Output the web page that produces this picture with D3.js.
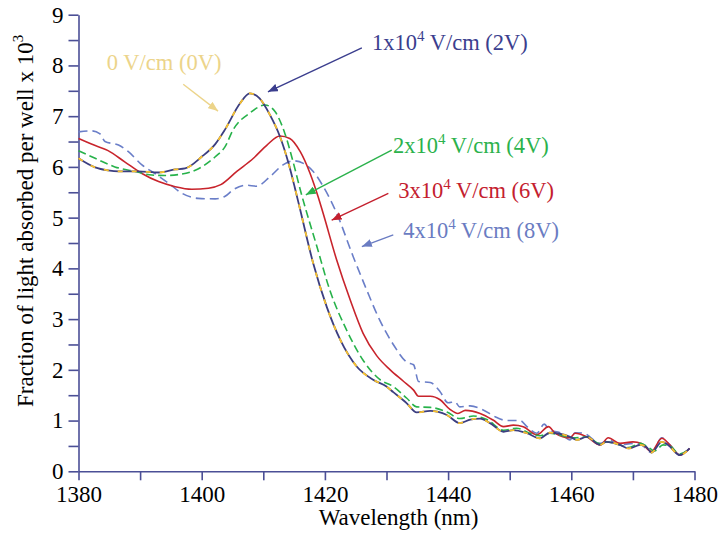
<!DOCTYPE html>
<html>
<head>
<meta charset="utf-8">
<script src="https://cdn.jsdelivr.net/npm/d3@7"></script>
<style>
  body { margin: 0; background: #fff; }
  text { font-family: "Liberation Serif", "Times New Roman", serif; }
</style>
</head>
<body>
<div id="chart"></div>
<script>
// wavelength (nm) and absorbed fraction (x 10^3)
var wlA = [1380, 1382.7, 1384.8, 1386.5, 1389.7, 1393, 1395.7, 1397.3, 1400, 1402.2, 1403.8, 1406.2, 1407.8, 1409.4, 1411.1, 1412.7, 1414.1, 1415.1, 1416, 1418.1, 1420.3, 1422.5, 1425.2, 1427.9, 1430, 1431.1, 1433.3, 1434.9, 1437.1, 1439.8, 1441.9, 1443.6, 1445.2, 1446.8, 1449, 1450.6, 1452.8, 1454.9, 1456.5, 1459.8, 1460.9, 1462.5, 1464.7, 1465.7, 1467.9, 1469.3, 1471.2, 1472.2, 1473, 1474.7, 1475.7, 1477.6, 1479.2];
var val0V = [6.17, 5.99, 5.93, 5.91, 5.91, 5.89, 5.95, 5.97, 6.2, 6.45, 6.74, 7.25, 7.45, 7.35, 7.02, 6.6, 6.07, 5.6, 5.15, 4.1, 3.24, 2.59, 2.06, 1.8, 1.67, 1.56, 1.34, 1.16, 1.19, 1.11, 0.95, 1.02, 1.04, 0.95, 0.78, 0.81, 0.75, 0.65, 0.76, 0.68, 0.62, 0.68, 0.52, 0.58, 0.52, 0.45, 0.52, 0.48, 0.37, 0.58, 0.52, 0.32, 0.45];
var val2V = [6.17, 5.99, 5.93, 5.91, 5.91, 5.89, 5.95, 5.97, 6.2, 6.45, 6.74, 7.25, 7.45, 7.35, 7.02, 6.6, 6.07, 5.6, 5.15, 4.1, 3.24, 2.59, 2.06, 1.8, 1.67, 1.56, 1.34, 1.16, 1.19, 1.11, 0.95, 1.02, 1.04, 0.95, 0.78, 0.81, 0.75, 0.65, 0.76, 0.68, 0.62, 0.68, 0.52, 0.58, 0.52, 0.45, 0.52, 0.48, 0.37, 0.58, 0.52, 0.32, 0.45];

var wl4V = [1380, 1382.7, 1385.9, 1389.2, 1391.9, 1394, 1396.8, 1399.4, 1402.2, 1403.8, 1405.1, 1407.8, 1410.3, 1411.9, 1413.5, 1414.9, 1416, 1418.7, 1420.8, 1423.5, 1426.2, 1428.9, 1431.1, 1433.3, 1434.9, 1437.1, 1439.8, 1441.9, 1444.1, 1446.3, 1449, 1451.1, 1453.3, 1454.9, 1456.5, 1460.3, 1462.5, 1464.7, 1465.7, 1467.9, 1469.3, 1471.2, 1472.2, 1473.5, 1474.9, 1476, 1477.6, 1479.2];
var val4V = [6.32, 6.17, 6.0, 5.91, 5.84, 5.83, 5.86, 5.96, 6.2, 6.4, 6.73, 7.06, 7.22, 7.09, 6.66, 6.07, 5.55, 4.43, 3.57, 2.79, 2.19, 1.81, 1.67, 1.44, 1.27, 1.26, 1.17, 1.04, 1.09, 1.02, 0.81, 0.85, 0.75, 0.7, 0.75, 0.66, 0.68, 0.54, 0.58, 0.52, 0.47, 0.55, 0.5, 0.4, 0.52, 0.5, 0.34, 0.45];

var wl6V = [1380, 1382.1, 1384.8, 1387.5, 1390.3, 1393, 1395.7, 1398.4, 1401.1, 1403.1, 1405.7, 1408.4, 1410.6, 1412.7, 1414.3, 1416, 1417.6, 1418.9, 1419.7, 1421.9, 1424.1, 1426.2, 1428.4, 1430.6, 1432.7, 1434.4, 1435.2, 1437.1, 1438.7, 1440.3, 1441.6, 1442.8, 1445.2, 1447.3, 1449, 1450.6, 1452.2, 1454.4, 1456.3, 1457.4, 1459.8, 1460.6, 1462.5, 1464.7, 1466, 1467.9, 1470, 1471.4, 1473, 1474.7, 1476, 1477.6, 1479.2];
var val6V = [6.56, 6.45, 6.32, 6.1, 5.87, 5.71, 5.61, 5.56, 5.58, 5.65, 5.91, 6.17, 6.43, 6.61, 6.56, 6.3, 5.87, 5.41, 5.09, 4.17, 3.38, 2.72, 2.28, 2.0, 1.78, 1.6, 1.48, 1.48, 1.41, 1.22, 1.14, 1.2, 1.14, 1.01, 0.88, 0.91, 0.88, 0.72, 0.88, 0.75, 0.66, 0.75, 0.68, 0.52, 0.66, 0.55, 0.58, 0.55, 0.39, 0.65, 0.52, 0.32, 0.45];

var wl8V = [1380, 1382.1, 1383.5, 1384.3, 1386.5, 1388.1, 1390.3, 1392.4, 1394.6, 1396.8, 1399.4, 1402.2, 1403.8, 1405.1, 1407.3, 1408.9, 1411.1, 1413.2, 1414.9, 1416.5, 1418.1, 1419.7, 1421.9, 1424.6, 1426.8, 1428.9, 1431.1, 1433.3, 1434.4, 1435.2, 1437.1, 1438.7, 1440, 1441.1, 1441.9, 1443.6, 1445.7, 1447.9, 1449.5, 1451.7, 1452.8, 1454.4, 1455.6, 1456.5, 1458.2, 1459.8, 1460.6, 1462, 1464.7, 1466, 1467.9, 1470, 1471.4, 1473, 1474.7, 1476, 1477.6, 1479.2];
var val8V = [6.69, 6.71, 6.65, 6.5, 6.43, 6.3, 6.04, 5.87, 5.68, 5.48, 5.38, 5.37, 5.42, 5.55, 5.64, 5.62, 5.81, 6.04, 6.12, 6.07, 5.91, 5.62, 5.09, 4.23, 3.57, 2.98, 2.5, 2.15, 2.1, 1.77, 1.75, 1.57, 1.35, 1.37, 1.27, 1.29, 1.21, 1.06, 1.0, 1.0, 0.88, 0.75, 0.93, 0.81, 0.76, 0.62, 0.76, 0.75, 0.55, 0.62, 0.52, 0.55, 0.52, 0.37, 0.66, 0.52, 0.32, 0.45];

var xTicks = [1380, 1390, 1400, 1410, 1420, 1430, 1440, 1450, 1460, 1470, 1480];
var yTicks = [0, 0.5, 1, 1.5, 2, 2.5, 3, 3.5, 4, 4.5, 5, 5.5, 6, 6.5, 7, 7.5, 8, 8.5, 9];

var svgwidth = 719, svgheight = 535;
var margin = {top: 14.7, right: 24.5, bottom: 63.7, left: 78.5};
var width = svgwidth - margin.left - margin.right,
    height = svgheight - margin.top - margin.bottom;
var axisColor = "#4b4f96";

var svg = d3.select("#chart")
            .append("svg")
            .attr("width", svgwidth)
            .attr("height", svgheight);

var canvas = svg.append("g")
            .attr("transform", "translate(" + margin.left + "," + margin.top + ")");

var x = d3.scaleLinear().domain([1380, 1480]).range([0, width]),
    y = d3.scaleLinear().domain([0, 9]).range([height, 0]);

var xAxis = canvas.append("g")
        .attr("transform", "translate(0," + height + ")")
        .call(d3.axisBottom(x).tickValues(xTicks).tickSize(9).tickSizeOuter(0).tickPadding(5)
              .tickFormat(function(d) { return d % 20 === 0 ? d : ""; }));
var yAxis = canvas.append("g")
        .call(d3.axisLeft(y).tickValues(yTicks).tickSize(10).tickSizeOuter(0).tickPadding(5)
              .tickFormat(function(d) { return d % 1 === 0 ? d : ""; }));

[xAxis, yAxis].forEach(function(a) {
    a.selectAll("path, line").attr("stroke", axisColor).attr("stroke-width", 1.6);
    a.selectAll("text").attr("fill", "black").attr("font-size", "23px")
        .attr("font-family", "Liberation Serif, Times New Roman, serif");
});

// axis titles
canvas.append("text")
        .attr("x", width / 2 + 12)
        .attr("y", height + 54)
        .attr("text-anchor", "middle")
        .attr("font-size", "23px")
        .text("Wavelength (nm)");

var ytitle = svg.append("text")
        .attr("transform", "translate(33,407) rotate(-90)")
        .attr("font-size", "23px");
ytitle.append("tspan").text("Fraction of light absorbed per well x 10");
ytitle.append("tspan").attr("font-size", "15px").attr("dy", -10).text("3");

// curves
var series = [
    {wl: wl8V, val: val8V, color: "#6a7ec8", dash: "9,5", width: 1.6},
    {wl: wl6V, val: val6V, color: "#c8242c", dash: null, width: 1.6},
    {wl: wl4V, val: val4V, color: "#27b24a", dash: "8,4", width: 1.6},
    {wl: wlA, val: val2V, color: "#3c3e80", dash: null, width: 1.8},
    {wl: wlA, val: val0V, color: "#f8c12c", dash: "5,9", width: 1.8}
];

var line = d3.line()
        .x(function(d) { return x(d[0]); })
        .y(function(d) { return y(d[1]); })
        .curve(d3.curveMonotoneX);

series.forEach(function(s) {
    canvas.append("path")
        .datum(d3.zip(s.wl, s.val))
        .attr("fill", "none")
        .attr("stroke", s.color)
        .attr("stroke-width", s.width)
        .attr("stroke-dasharray", s.dash)
        .attr("d", line);
});

// annotations, positioned in data units
var notes = [
    {pre: "0 V/cm (0V)", sup: null, post: "", color: "#ecd48a", tx: 1384.6, ty: 7.91, x1: 1397.0, y1: 7.63, x2: 1402.65, y2: 7.10},
    {pre: "1x10", sup: "4", post: " V/cm (2V)", color: "#3b3e8e", tx: 1427.65, ty: 8.305, x1: 1426.0, y1: 8.345, x2: 1410.75, y2: 7.48},
    {pre: "2x10", sup: "4", post: " V/cm (4V)", color: "#2bb24c", tx: 1431.05, ty: 6.27, x1: 1430.85, y1: 6.33, x2: 1416.9, y2: 5.45},
    {pre: "3x10", sup: "4", post: " V/cm (6V)", color: "#c4202e", tx: 1431.9, ty: 5.39, x1: 1430.3, y1: 5.48, x2: 1421.1, y2: 4.95},
    {pre: "4x10", sup: "4", post: " V/cm (8V)", color: "#6a7cc2", tx: 1432.7, ty: 4.60, x1: 1431.1, y1: 4.66, x2: 1426.0, y2: 4.43}
];

var defs = svg.append("defs");
notes.forEach(function(n, i) {
    defs.append("marker")
        .attr("id", "arrow" + i)
        .attr("markerUnits", "userSpaceOnUse")
        .attr("markerWidth", 11)
        .attr("markerHeight", 8)
        .attr("refX", 10)
        .attr("refY", 4)
        .attr("orient", "auto")
        .append("path")
        .attr("d", "M0,0 L10,4 L0,8 Z")
        .attr("fill", n.color);

    canvas.append("line")
        .attr("x1", x(n.x1)).attr("y1", y(n.y1))
        .attr("x2", x(n.x2)).attr("y2", y(n.y2))
        .attr("stroke", n.color)
        .attr("stroke-width", 1.4)
        .attr("marker-end", "url(#arrow" + i + ")");

    var t = canvas.append("text")
        .attr("x", x(n.tx))
        .attr("y", y(n.ty))
        .attr("fill", n.color)
        .attr("font-size", "22.5px");
    t.append("tspan").text(n.pre);
    if (n.sup) {
        t.append("tspan").attr("font-size", "15px").attr("dy", -9).text(n.sup);
        t.append("tspan").attr("dy", 9).text(n.post);
    }
});
</script>
</body>
</html>
